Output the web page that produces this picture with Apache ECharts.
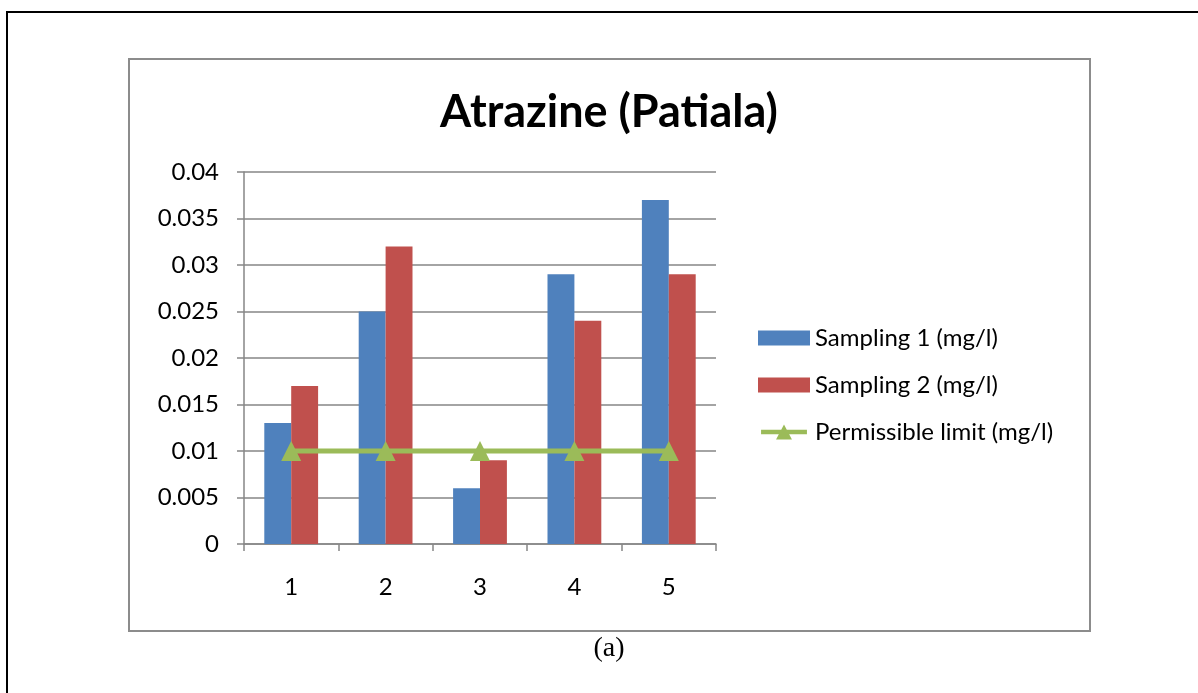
<!DOCTYPE html>
<html>
<head>
<meta charset="utf-8">
<title>Atrazine (Patiala)</title>
<script src="https://cdn.jsdelivr.net/npm/echarts@6/dist/echarts.min.js"></script>
<style>
  html, body { margin: 0; padding: 0; background: #ffffff; }
  #chart { width: 1198px; height: 693px; }
</style>
</head>
<body>
<div id="chart"></div>
<script>
// Sampling sites along the x axis
const categories = ['1', '2', '3', '4', '5'];
// Atrazine concentration, mg/l
const sampling1 = [0.013, 0.025, 0.006, 0.029, 0.037];
const sampling2 = [0.017, 0.032, 0.009, 0.024, 0.029];
const permissibleLimit = [0.01, 0.01, 0.01, 0.01, 0.01];
// Value axis tick labels
const yTickLabels = ['0', '0.005', '0.01', '0.015', '0.02', '0.025', '0.03', '0.035', '0.04'];

const seriesNames = ['Sampling 1 (mg/l)', 'Sampling 2 (mg/l)', 'Permissible limit (mg/l)'];

const FONT = 'Lato, "Open Sans", sans-serif';
const AXIS_GREY = '#868686';
// legend key for the limit line: a thick stroke with a triangle marker on it
const LIMIT_KEY_ICON = 'path://M0,6 L52,6 L52,11 L0,11 Z M17,17 L26,0 L35,17 Z';

const chart = echarts.init(document.getElementById('chart'), null, { renderer: 'canvas' });

chart.setOption({
  backgroundColor: '#ffffff',
  animation: false,
  textStyle: { fontFamily: FONT },
  title: {
    text: 'Atrazine (Patiala)',
    left: 604,
    textAlign: 'center',
    top: 85,
    textStyle: { fontFamily: FONT, fontWeight: 'bold', fontSize: 45, color: '#000000' }
  },
  legend: {
    orient: 'vertical',
    left: 753,
    top: 321,
    itemWidth: 52,
    itemHeight: 15,
    itemGap: 23,
    data: [
      { name: seriesNames[0], icon: 'rect' },
      { name: seriesNames[1], icon: 'rect' },
      { name: seriesNames[2], icon: LIMIT_KEY_ICON, itemStyle: { color: '#9BBB59' } }
    ],
    textStyle: { fontFamily: FONT, fontSize: 24, color: '#000000' }
  },
  grid: { left: 244, top: 172, width: 472, height: 372, containLabel: false },
  xAxis: {
    type: 'category',
    data: categories,
    boundaryGap: true,
    axisLine: { lineStyle: { color: AXIS_GREY, width: 1.5 } },
    axisTick: { show: true, length: 7, lineStyle: { color: AXIS_GREY, width: 1.5 } },
    axisLabel: { fontFamily: FONT, fontSize: 24, color: '#000000', margin: 31 },
    splitLine: { show: false }
  },
  yAxis: {
    type: 'value',
    min: 0,
    max: 0.04,
    interval: 0.005,
    axisLine: { show: true, lineStyle: { color: AXIS_GREY, width: 1.5 } },
    axisTick: { show: true, length: 7, lineStyle: { color: AXIS_GREY, width: 1.5 } },
    axisLabel: {
      fontFamily: FONT, fontSize: 24, color: '#000000', margin: 25,
      formatter: (v) => yTickLabels[Math.round(v / 0.005)]
    },
    splitLine: { show: true, lineStyle: { color: AXIS_GREY, width: 1.5 } }
  },
  series: [
    {
      name: seriesNames[0],
      type: 'bar',
      data: sampling1,
      barGap: '0%',
      barCategoryGap: '43%',
      itemStyle: { color: '#4F81BD' }
    },
    {
      name: seriesNames[1],
      type: 'bar',
      data: sampling2,
      barGap: '0%',
      barCategoryGap: '43%',
      itemStyle: { color: '#C0504D' }
    },
    {
      name: seriesNames[2],
      type: 'line',
      data: permissibleLimit,
      symbol: 'triangle',
      symbolSize: 20,
      showAllSymbol: true,
      z: 5,
      lineStyle: { color: '#9BBB59', width: 5 },
      itemStyle: { color: '#9BBB59' }
    }
  ],
  graphic: [
    {
      // outer page frame
      type: 'rect',
      silent: true,
      shape: { x: 7, y: 12, width: 1220, height: 720 },
      style: { fill: 'none', stroke: '#000000', lineWidth: 2 }
    },
    {
      // chart area border
      type: 'rect',
      silent: true,
      shape: { x: 129, y: 59, width: 961, height: 572 },
      style: { fill: 'none', stroke: '#8c8c8c', lineWidth: 2 }
    },
    {
      type: 'text',
      silent: true,
      x: 609,
      y: 649,
      style: {
        text: '(a)',
        fontFamily: '"Liberation Serif", "DejaVu Serif", serif',
        fontSize: 28,
        fill: '#000000',
        align: 'center',
        verticalAlign: 'middle'
      }
    }
  ]
});
</script>
</body>
</html>
